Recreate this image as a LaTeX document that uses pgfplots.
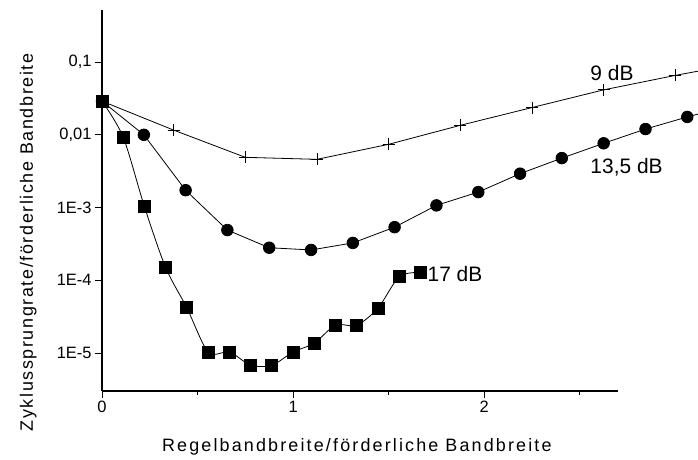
\documentclass[border=0pt]{standalone}
\usepackage{fontspec}
\setmainfont{Liberation Sans}
\newfontfamily\xlabfont[LetterSpace=12]{Liberation Sans}
\newfontfamily\ylabfont[LetterSpace=9]{Liberation Sans}
\usepackage{pgfplots}
\pgfplotsset{compat=1.18}
\begin{document}
\begin{tikzpicture}
\useasboundingbox (-102bp,-69bp) rectangle (596bp,391bp);
\clip (-102bp,-69bp) rectangle (596bp,391bp);
\begin{axis}[
  at={(0,0)}, anchor=south west,
  scale only axis, width=516bp, height=381bp,
  ymode=log, log basis y=10,
  xmin=0, xmax=2.70, ymin=3e-6, ymax=0.52,
  axis x line=bottom, axis y line=left,
  axis line style={-, line width=1.1bp},
  tick align=outside,
  xtick={0,1,2}, xticklabels={0,1,2}, minor xtick={0.5,1.5,2.5},
  ytick={1e-5,1e-4,1e-3,1e-2,1e-1},
  yticklabels={1E-5,1E-4,1E-3,{0,01},{0,1}},
  major tick length=7bp, minor tick length=4bp,
  tick style={line width=0.9bp, black},
  tick label style={font=\fontsize{16.5}{18}\selectfont},
  xlabel={Regelbandbreite/förderliche Bandbreite},
  ylabel={Zyklussprungrate/förderliche Bandbreite},
  xlabel style={at={(axis description cs:0.494,-0.158)}, anchor=base, font=\xlabfont\fontsize{18}{20}\selectfont},
  ylabel style={at={(axis description cs:-0.134,0.39)}, anchor=base, font=\ylabfont\fontsize{18}{20}\selectfont},
  clip=false,
]
\addplot[black, line width=0.8bp, mark=+, mark size=6bp, mark options={line width=0.8bp}] coordinates {
(0,0.029) (0.375,0.0116) (0.75,0.0049) (1.125,0.0046) (1.5,0.0074) (1.875,0.0135) (2.25,0.0237) (2.625,0.0415) (3.0,0.0656) (3.375,0.1)
};
\addplot[black, line width=0.8bp, mark=*, mark size=5.8bp, mark options={fill=black}] coordinates {
(0,0.029) (0.219,0.0100) (0.4375,0.00173) (0.656,4.9e-4) (0.875,2.8e-4) (1.094,2.61e-4) (1.3125,3.26e-4) (1.531,5.37e-4) (1.75,1.07e-3) (1.969,1.63e-3) (2.1875,2.92e-3) (2.406,4.78e-3) (2.625,7.64e-3) (2.844,0.012) (3.0625,0.0176) (3.28,0.025)
};
\addplot[black, line width=0.8bp, smooth, mark=square*, mark size=6bp, mark options={fill=black}] coordinates {
(0,0.029) (0.111,0.00925) (0.222,1.03e-3) (0.333,1.5e-4) (0.444,4.18e-5) (0.556,1.03e-5) (0.667,1.03e-5) (0.778,6.8e-6) (0.889,6.8e-6) (1.0,1.03e-5) (1.111,1.37e-5) (1.222,2.41e-5) (1.333,2.41e-5) (1.444,4.14e-5) (1.556,1.12e-4) (1.667,1.28e-4)
};
\node[anchor=base west, font=\fontsize{21}{24}\selectfont, inner sep=0pt] at (axis cs:2.555,0.0565) {9 dB};
\node[anchor=base west, font=\fontsize{21}{24}\selectfont, inner sep=0pt] at (axis cs:2.555,0.00297) {13,5 dB};
\node[anchor=base west, font=\fontsize{21}{24}\selectfont, inner sep=0pt] at (axis cs:1.703,9.53e-5) {17 dB};
\end{axis}
\end{tikzpicture}
\end{document}
